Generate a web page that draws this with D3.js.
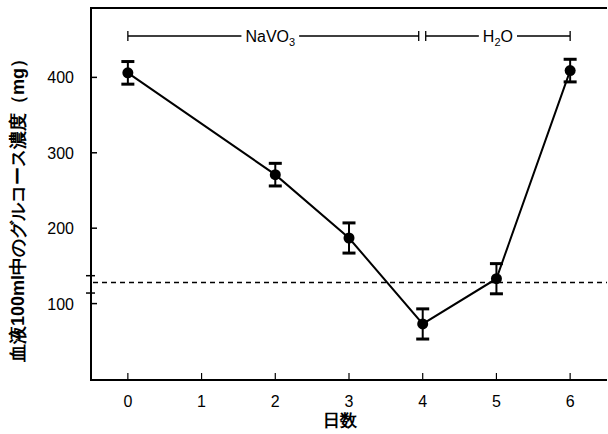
<!DOCTYPE html>
<html>
<head>
<meta charset="utf-8">
<script src="https://cdn.jsdelivr.net/npm/d3@7"></script>
<style>
  body { margin: 0; background: #fff; }
  text { font-family: "Liberation Sans", Arial, sans-serif; }
</style>
</head>
<body>
<div id="chart"></div>
<script>
// blood glucose per day (mean +- error)
const days = [0, 2, 3, 4, 5, 6];
const glucose = [406, 271, 187, 73, 133, 409];
const errors = [15, 15, 20, 20, 20, 15];
const xTicks = [0, 1, 2, 3, 4, 5, 6];
const yTicks = [100, 200, 300, 400];
const normalLevel = 128;          // dashed line
const normalRange = [114, 137];   // marks on the y axis
const periods = [
    { label: "NaVO", sub: "3", from: 0, to: 4 },
    { label: "H", sub: "2", tail: "O", from: 4, to: 6 }
];

const width = 608, height = 434;
const plotLeft = 91, plotRight = 607, plotTop = 8, plotBottom = 379;

const x = d3.scaleLinear().domain([-0.5, 6.5]).range([plotLeft, plotRight]);
const y = d3.scaleLinear().domain([0, 492]).range([plotBottom, plotTop]);

const svg = d3.select("#chart")
    .append("svg")
    .attr("width", width)
    .attr("height", height);

// frame: left, top and bottom lines
svg.append("path")
    .attr("d", `M${plotRight},${plotTop}H${plotLeft}V${plotBottom + 1}H${plotRight}`)
    .attr("fill", "none")
    .attr("stroke", "black")
    .attr("stroke-width", 2);

// y axis ticks point inward
const yAxis = svg.append("g");
yAxis.selectAll("line")
    .data(yTicks)
    .join("line")
    .attr("x1", plotLeft).attr("x2", plotLeft + 6)
    .attr("y1", d => y(d)).attr("y2", d => y(d))
    .attr("stroke", "black").attr("stroke-width", 1.5);
yAxis.selectAll("text")
    .data(yTicks)
    .join("text")
    .attr("x", 74)
    .attr("y", d => y(d) + 6)
    .attr("text-anchor", "end")
    .attr("font-size", 16)
    .text(d => d);

// normal range marks across the axis
svg.append("g")
    .selectAll("line")
    .data(normalRange)
    .join("line")
    .attr("x1", plotLeft - 5).attr("x2", plotLeft + 4)
    .attr("y1", d => y(d)).attr("y2", d => y(d))
    .attr("stroke", "black").attr("stroke-width", 1.5);

// x axis ticks point upward
const xAxis = svg.append("g");
xAxis.selectAll("line")
    .data(xTicks)
    .join("line")
    .attr("x1", d => x(d)).attr("x2", d => x(d))
    .attr("y1", plotBottom).attr("y2", plotBottom - 6)
    .attr("stroke", "black").attr("stroke-width", 1.2);
xAxis.selectAll("text")
    .data(xTicks)
    .join("text")
    .attr("x", d => x(d))
    .attr("y", 407)
    .attr("text-anchor", "middle")
    .attr("font-size", 16)
    .text(d => d);

// axis titles
svg.append("text")
    .attr("x", 340)
    .attr("y", 426)
    .attr("text-anchor", "middle")
    .attr("font-family", "Noto Sans CJK JP")
    .attr("font-weight", "bold")
    .attr("font-size", 17)
    .text("日数");

svg.append("text")
    .attr("transform", "translate(24,206) rotate(-90)")
    .attr("text-anchor", "middle")
    .attr("font-family", "Noto Sans CJK JP")
    .attr("font-weight", "bold")
    .attr("font-size", 18)
    .text("血液100ml中のグルコース濃度（mg）");

// dashed normal level
svg.append("line")
    .attr("x1", plotLeft + 2).attr("x2", plotRight)
    .attr("y1", y(normalLevel)).attr("y2", y(normalLevel))
    .attr("stroke", "black")
    .attr("stroke-width", 1.5)
    .attr("stroke-dasharray", "5,4");

// treatment period brackets
const by = 36;
periods.forEach((p, i) => {
    const x0 = x(p.from) + (i === 0 ? 0 : 3);
    const x1 = x(p.to) - (i === 0 ? 4 : 0);
    const g = svg.append("g");
    const t = g.append("text")
        .attr("x", (x0 + x1) / 2 - (i === 0 ? 3 : 0))
        .attr("y", by + 6)
        .attr("text-anchor", "middle")
        .attr("font-size", 16);
    t.append("tspan").text(p.label);
    t.append("tspan").attr("font-size", 11).attr("dy", 4).text(p.sub);
    if (p.tail) t.append("tspan").attr("dy", -4).text(p.tail);
    const bb = t.node().getBBox();
    g.append("path")
        .attr("d", `M${x0},${by - 5}V${by + 5}M${x0},${by}H${bb.x - 4}` +
                   `M${bb.x + bb.width + 4},${by}H${x1}M${x1},${by - 5}V${by + 5}`)
        .attr("fill", "none")
        .attr("stroke", "black")
        .attr("stroke-width", 1.3);
});

// data line
const line = d3.line()
    .x((d, i) => x(days[i]))
    .y(d => y(d));

svg.append("path")
    .datum(glucose)
    .attr("d", line)
    .attr("fill", "none")
    .attr("stroke", "black")
    .attr("stroke-width", 2);

// error bars
const eb = svg.append("g").attr("stroke", "black");
days.forEach((d, i) => {
    const cx = x(d);
    const hi = y(glucose[i] + errors[i]);
    const lo = y(glucose[i] - errors[i]);
    eb.append("line")
        .attr("x1", cx).attr("x2", cx).attr("y1", hi).attr("y2", lo)
        .attr("stroke-width", 2);
    eb.append("line")
        .attr("x1", cx - 6.5).attr("x2", cx + 6.5).attr("y1", hi).attr("y2", hi)
        .attr("stroke-width", 3);
    eb.append("line")
        .attr("x1", cx - 6.5).attr("x2", cx + 6.5).attr("y1", lo).attr("y2", lo)
        .attr("stroke-width", 3);
});

// points
svg.append("g")
    .selectAll("circle")
    .data(glucose)
    .join("circle")
    .attr("cx", (d, i) => x(days[i]))
    .attr("cy", d => y(d))
    .attr("r", 5.5)
    .attr("fill", "black");
</script>
</body>
</html>
